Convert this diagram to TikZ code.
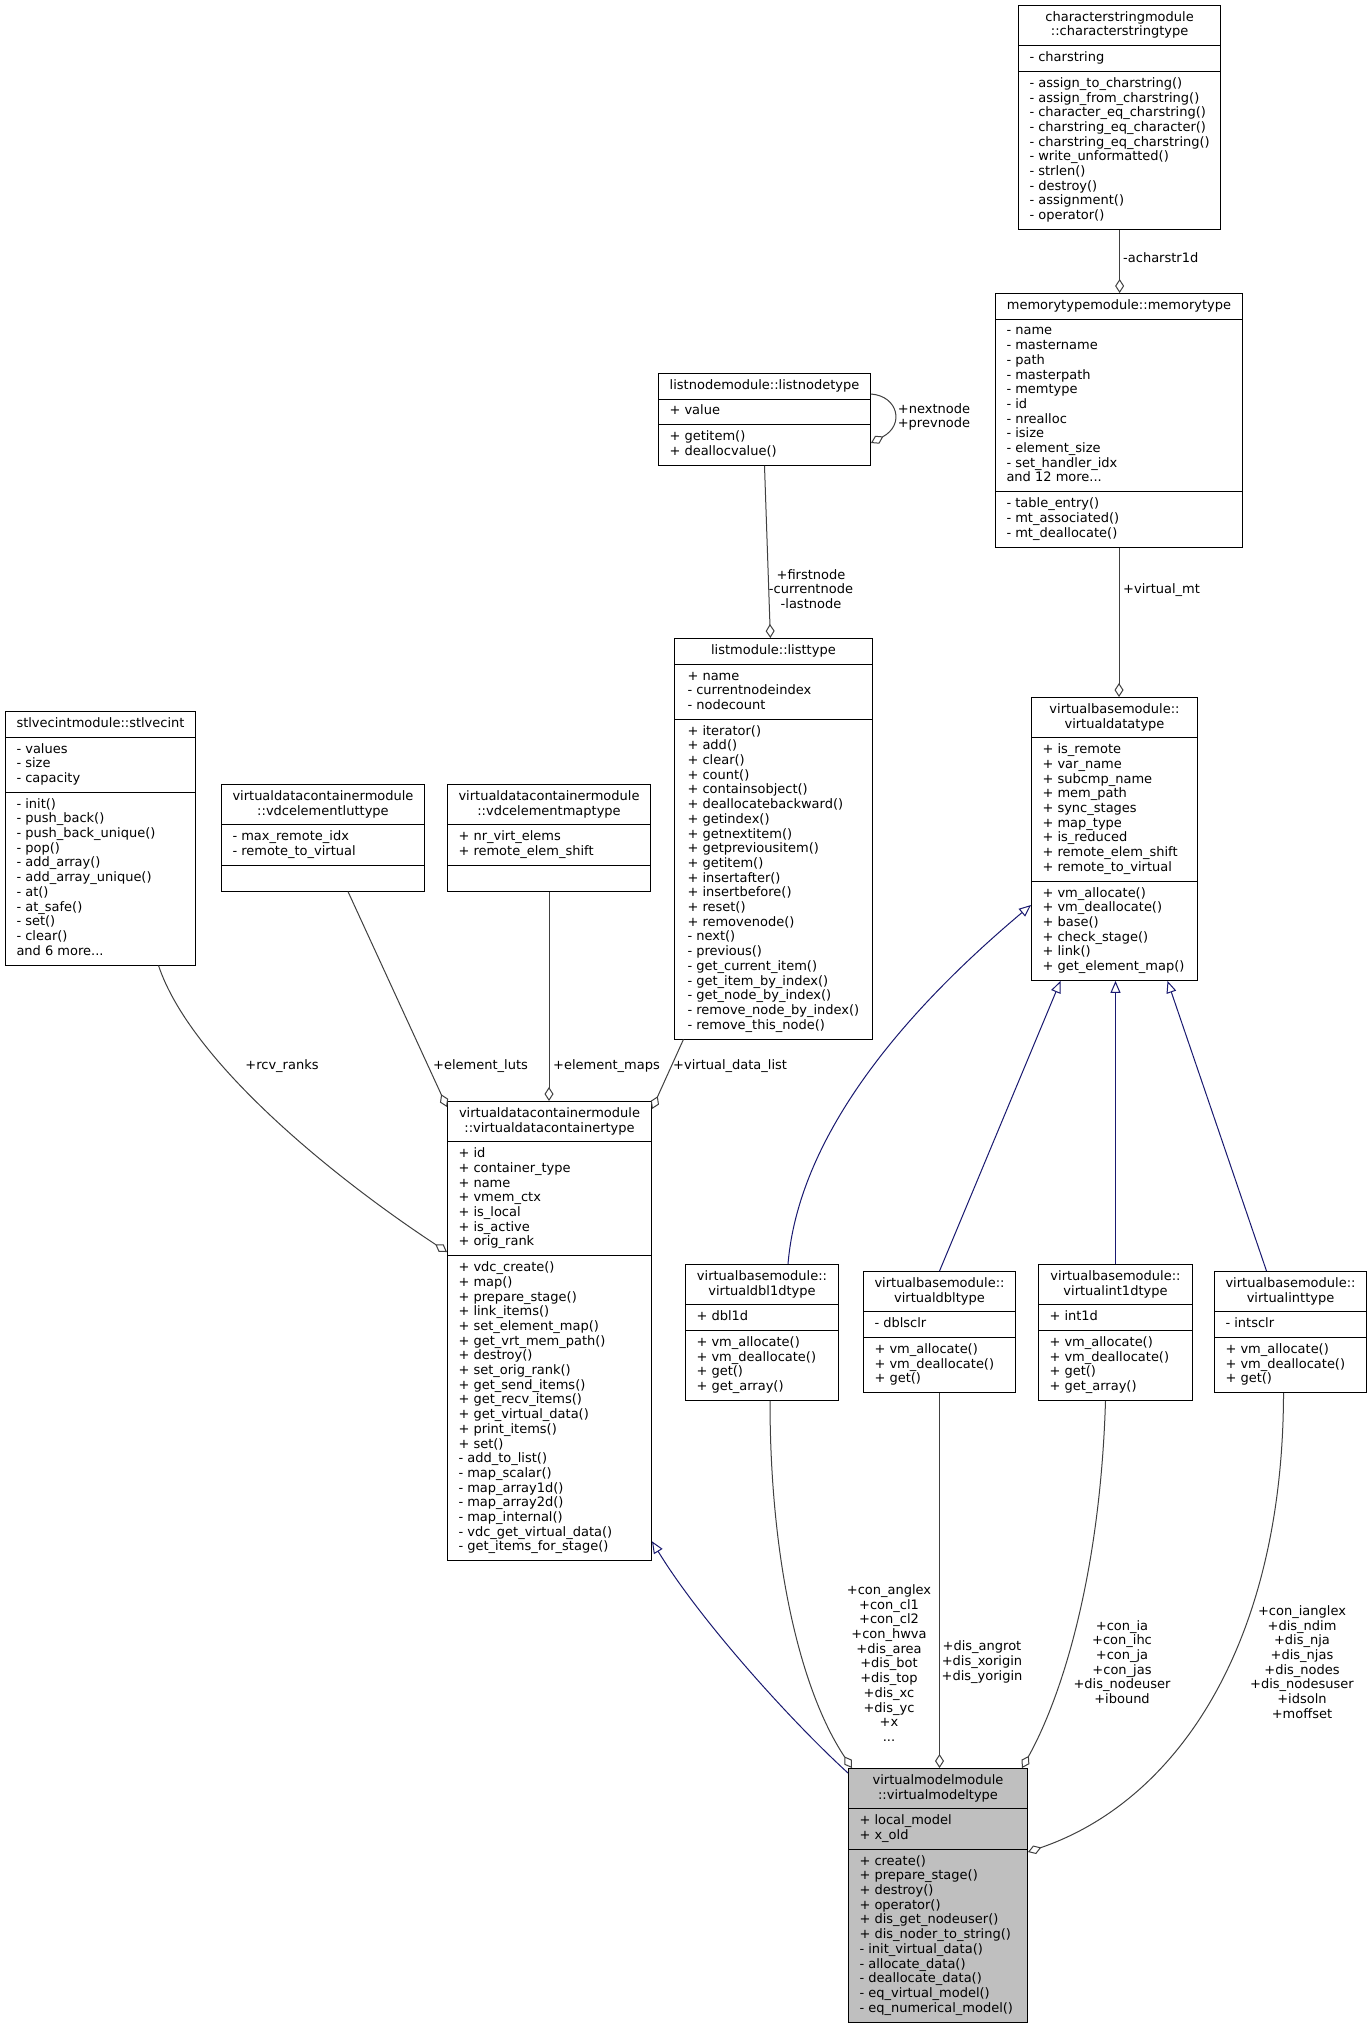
\documentclass[tikz,border=0pt]{standalone}
\usepackage{fontspec}
\setmainfont{DejaVu Sans}
\usetikzlibrary{shapes.multipart,arrows.meta,calc}
\definecolor{edgegray}{HTML}{404040}
\definecolor{navyedge}{HTML}{191970}
\definecolor{vmtfill}{HTML}{BFBFBF}
\newcommand\umlfont{\fontsize{13pt}{14.7pt}\selectfont}
\newcommand\clstitle[1]{\begin{tabular}{@{}c@{}}#1\end{tabular}}
\newcommand\clslines[1]{\begin{tabular}{@{}l@{}}#1\end{tabular}}
\tikzset{
  cls/.style={draw=black, line width=1pt, fill=white, rectangle split, rectangle split parts=3,
    rectangle split part align={center,left,left}, inner xsep=11pt, inner ysep=5pt,
    anchor=north west, font=\umlfont, minimum width=#1},
  agg/.style={draw=edgegray, line width=1pt, -{Diamond[open,length=14pt,width=9pt]}},
  gen/.style={draw=navyedge, line width=1pt, -{Triangle[open,length=12pt,width=10pt]}},
  lbl/.style={font=\umlfont, inner sep=0pt, text=black, align=center},
}
\begin{document}
\begin{tikzpicture}[x=1pt,y=-1pt]
\fill[white] (0,0) rectangle (1371,2027);
\useasboundingbox (0,0) rectangle (1371,2027);

% classes
\node[cls=202] (charstr) at (1018,5) {\clstitle{characterstringmodule\\::characterstringtype}\nodepart{two}\clslines{- charstring}\nodepart{three}\clslines{- assign\_to\_charstring()\\- assign\_from\_charstring()\\- character\_eq\_charstring()\\- charstring\_eq\_character()\\- charstring\_eq\_charstring()\\- write\_unformatted()\\- strlen()\\- destroy()\\- assignment()\\- operator()}};

\node[cls=247] (memtype) at (995,293) {\clstitle{memorytypemodule::memorytype}\nodepart{two}\clslines{- name\\- mastername\\- path\\- masterpath\\- memtype\\- id\\- nrealloc\\- isize\\- element\_size\\- set\_handler\_idx\\and 12 more...}\nodepart{three}\clslines{- table\_entry()\\- mt\_associated()\\- mt\_deallocate()}};

\node[cls=212] (listnode) at (658,373) {\clstitle{listnodemodule::listnodetype}\nodepart{two}\clslines{+ value}\nodepart{three}\clslines{+ getitem()\\+ deallocvalue()}};

\node[cls=197, inner xsep=13pt] (listtype) at (674,638) {\clstitle{listmodule::listtype}\nodepart{two}\clslines{+ name\\- currentnodeindex\\- nodecount}\nodepart{three}\clslines{+ iterator()\\+ add()\\+ clear()\\+ count()\\+ containsobject()\\+ deallocatebackward()\\+ getindex()\\+ getnextitem()\\+ getpreviousitem()\\+ getitem()\\+ insertafter()\\+ insertbefore()\\+ reset()\\+ removenode()\\- next()\\- previous()\\- get\_current\_item()\\- get\_item\_by\_index()\\- get\_node\_by\_index()\\- remove\_node\_by\_index()\\- remove\_this\_node()}};

\node[cls=190] (stlvecint) at (5,711) {\clstitle{stlvecintmodule::stlvecint}\nodepart{two}\clslines{- values\\- size\\- capacity}\nodepart{three}\clslines{- init()\\- push\_back()\\- push\_back\_unique()\\- pop()\\- add\_array()\\- add\_array\_unique()\\- at()\\- at\_safe()\\- set()\\- clear()\\and 6 more...}};

\node[cls=202] (lut) at (221,784) {\clstitle{virtualdatacontainermodule\\::vdcelementluttype}\nodepart{two}\clslines{- max\_remote\_idx\\- remote\_to\_virtual}\nodepart{three}\strut};

\node[cls=203] (map) at (447,784) {\clstitle{virtualdatacontainermodule\\::vdcelementmaptype}\nodepart{two}\clslines{+ nr\_virt\_elems\\+ remote\_elem\_shift}\nodepart{three}\strut};

\node[cls=204] (vdc) at (447,1101) {\clstitle{virtualdatacontainermodule\\::virtualdatacontainertype}\nodepart{two}\clslines{+ id\\+ container\_type\\+ name\\+ vmem\_ctx\\+ is\_local\\+ is\_active\\+ orig\_rank}\nodepart{three}\clslines{+ vdc\_create()\\+ map()\\+ prepare\_stage()\\+ link\_items()\\+ set\_element\_map()\\+ get\_vrt\_mem\_path()\\+ destroy()\\+ set\_orig\_rank()\\+ get\_send\_items()\\+ get\_recv\_items()\\+ get\_virtual\_data()\\+ print\_items()\\+ set()\\- add\_to\_list()\\- map\_scalar()\\- map\_array1d()\\- map\_array2d()\\- map\_internal()\\- vdc\_get\_virtual\_data()\\- get\_items\_for\_stage()}};

\node[cls=166] (vdt) at (1031,697) {\clstitle{virtualbasemodule::\\virtualdatatype}\nodepart{two}\clslines{+ is\_remote\\+ var\_name\\+ subcmp\_name\\+ mem\_path\\+ sync\_stages\\+ map\_type\\+ is\_reduced\\+ remote\_elem\_shift\\+ remote\_to\_virtual}\nodepart{three}\clslines{+ vm\_allocate()\\+ vm\_deallocate()\\+ base()\\+ check\_stage()\\+ link()\\+ get\_element\_map()}};

\node[cls=153] (dbl1d) at (685,1264) {\clstitle{virtualbasemodule::\\virtualdbl1dtype}\nodepart{two}\clslines{+ dbl1d}\nodepart{three}\clslines{+ vm\_allocate()\\+ vm\_deallocate()\\+ get()\\+ get\_array()}};

\node[cls=152] (dbl) at (863,1271) {\clstitle{virtualbasemodule::\\virtualdbltype}\nodepart{two}\clslines{- dblsclr}\nodepart{three}\clslines{+ vm\_allocate()\\+ vm\_deallocate()\\+ get()}};

\node[cls=154] (int1d) at (1038,1264) {\clstitle{virtualbasemodule::\\virtualint1dtype}\nodepart{two}\clslines{+ int1d}\nodepart{three}\clslines{+ vm\_allocate()\\+ vm\_deallocate()\\+ get()\\+ get\_array()}};

\node[cls=152] (int) at (1214,1271) {\clstitle{virtualbasemodule::\\virtualinttype}\nodepart{two}\clslines{- intsclr}\nodepart{three}\clslines{+ vm\_allocate()\\+ vm\_deallocate()\\+ get()}};

\node[cls=179, fill=vmtfill] (vmt) at (848,1768) {\clstitle{virtualmodelmodule\\::virtualmodeltype}\nodepart{two}\clslines{+ local\_model\\+ x\_old}\nodepart{three}\clslines{+ create()\\+ prepare\_stage()\\+ destroy()\\+ operator()\\+ dis\_get\_nodeuser()\\+ dis\_noder\_to\_string()\\- init\_virtual\_data()\\- allocate\_data()\\- deallocate\_data()\\- eq\_virtual\_model()\\- eq\_numerical\_model()}};

% aggregation edges
\draw[agg] (charstr.south) -- (charstr.south |- memtype.north);
\node[lbl, anchor=west] (lacs) at (1123,258) {-acharstr1d};

\draw[agg] (memtype.south) -- (memtype.south |- vdt.north);
\node[lbl, anchor=west] (lvmt) at (1123,590) {+virtual\_mt};

\draw[agg] (listnode.south) -- ([xshift=-3pt]listtype.north);
\node[lbl] (lfirst) at (811,589) {+firstnode\\-currentnode\\-lastnode};

\draw[agg] ([yshift=-21pt]listnode.north east) .. controls (898,396) and (905,425) .. ([yshift=-70pt]listnode.north east);
\node[lbl] (lnext) at (934,417) {+nextnode\\+prevnode};

\draw[agg] ([xshift=58pt]stlvecint.south) .. controls (190,1060) and (330,1175) .. ([yshift=-151pt]vdc.north west);
\node[lbl] (lrcv) at (282,1066) {+rcv\_ranks};

\draw[agg] ([xshift=25pt]lut.south) -- ([yshift=-6pt]vdc.north west);
\node[lbl, anchor=west] (llut) at (433,1066) {+element\_luts};

\draw[agg] (map.south) -- (map.south |- vdc.north);
\node[lbl, anchor=west] (lmap) at (553,1066) {+element\_maps};

\draw[agg] ([xshift=-90pt]listtype.south) -- ([yshift=-8pt]vdc.north east);
\node[lbl, anchor=west] (lvdl) at (673,1066) {+virtual\_data\_list};

\draw[agg] ([xshift=8pt]dbl1d.south) .. controls (770,1560) and (800,1690) .. ([xshift=4pt]vmt.north west);
\node[lbl] (ldbl1d) at (889,1663) {+con\_anglex\\+con\_cl1\\+con\_cl2\\+con\_hwva\\+dis\_area\\+dis\_bot\\+dis\_top\\+dis\_xc\\+dis\_yc\\+x\\...};

\draw[agg] (dbl.south) -- (dbl.south |- vmt.north);
\node[lbl] (ldbl) at (982,1662) {+dis\_angrot\\+dis\_xorigin\\+dis\_yorigin};

\draw[agg] ([xshift=-10pt]int1d.south) .. controls (1100,1580) and (1060,1700) .. ([xshift=-6pt]vmt.north east);
\node[lbl] (lint1d) at (1122,1662) {+con\_ia\\+con\_ihc\\+con\_ja\\+con\_jas\\+dis\_nodeuser\\+ibound};

\draw[agg] ([xshift=-7pt]int.south) .. controls (1283,1640) and (1180,1800) .. ([yshift=-84pt]vmt.north east);
\node[lbl] (lint) at (1302,1662) {+con\_ianglex\\+dis\_ndim\\+dis\_nja\\+dis\_njas\\+dis\_nodes\\+dis\_nodesuser\\+idsoln\\+moffset};

% generalization edges
\draw[gen] ([yshift=-5pt]vmt.north west) .. controls (790,1720) and (700,1620) .. ([yshift=20pt]vdc.south east);
\draw[gen] ([xshift=26pt]dbl1d.north) .. controls (800,1120) and (930,990) .. ([yshift=-208pt]vdt.north west);
\draw[gen] (dbl.north) -- ([xshift=-54pt]vdt.south);
\draw[gen] (int1d.north) -- (int1d.north |- vdt.south);
\draw[gen] ([xshift=-24pt]int.north) -- ([xshift=53pt]vdt.south);
\end{tikzpicture}
\end{document}
